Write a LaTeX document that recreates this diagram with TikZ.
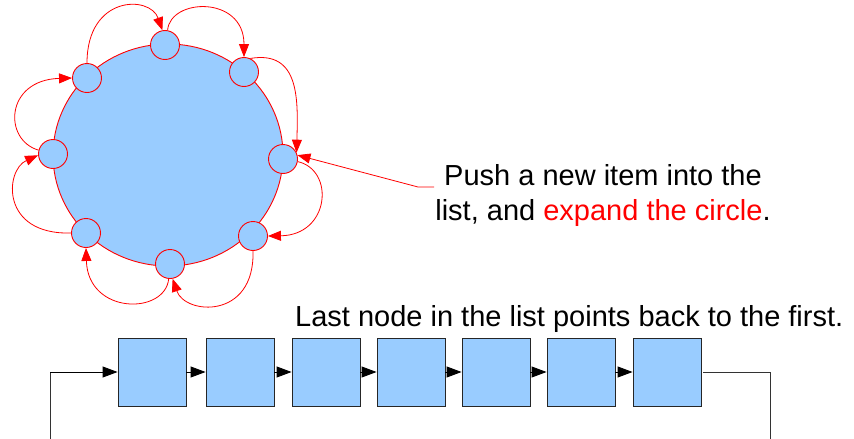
\documentclass[tikz,border=0pt]{standalone}
\usepackage{fontspec}
\setmainfont{Liberation Sans}
\usetikzlibrary{arrows.meta,shapes.geometric}
\definecolor{nodeblue}{HTML}{99CCFF}
\definecolor{linkred}{HTML}{FF0000}
\tikzset{
  ring/.style={ellipse,draw=linkred,fill=nodeblue,line width=0.9pt,inner sep=0pt,
               minimum width=230pt,minimum height=222pt},
  dot/.style={circle,draw=linkred,fill=nodeblue,line width=0.9pt,inner sep=0pt,minimum size=29pt},
  redlink/.style={draw=linkred,line width=0.8pt,-{Triangle[length=13pt,width=10pt]}},
  cell/.style={draw=black!85,fill=nodeblue,line width=0.9pt,inner sep=0pt,minimum size=68pt},
  blacklink/.style={draw=black,line width=0.9pt,-{Triangle[length=15pt,width=11pt]}},
  backlink/.style={draw=black!80,line width=1pt},
  caption/.style={inner sep=0pt,font=\fontsize{29}{35}\selectfont}
}
\begin{document}
\begin{tikzpicture}[x=1pt,y=-1pt]
\useasboundingbox (0,0) rectangle (854,439);

% circular list
\node[ring] (ring) at (168,155) {};
\node[dot] (c1) at (165,45) {};
\node[dot] (c2) at (244,72) {};
\node[dot] (c3) at (283,159) {};
\node[dot] (c4) at (253,236) {};
\node[dot] (c5) at (170,264) {};
\node[dot] (c6) at (86,233) {};
\node[dot] (c7) at (53,154) {};
\node[dot] (c8) at (87,78) {};

\draw[redlink] (c8.90) .. controls (87,-5) and (150,-5) .. (c1.100);
\draw[redlink] (c1.80) .. controls (170,-2) and (244,-5) .. (c2.90);
\draw[redlink] (c2.65) .. controls (300,50) and (298,100) .. (c3.25);
\draw[redlink] (c3.-10) .. controls (335,170) and (330,235) .. (c4.0);
\draw[redlink] (c4.270) .. controls (255,320) and (185,315) .. (c5.-80);
\draw[redlink] (c5.-95) .. controls (165,315) and (88,315) .. (c6.-90);
\draw[redlink] (c6.180) .. controls (0,235) and (5,170) .. (c7.185);
\draw[redlink] (c7.165) .. controls (3,140) and (5,80) .. (c8.180);

% caption for the circle
\node[caption,anchor=base] (t1) at (603,185) {Push a new item into the};
\node[caption,anchor=base] (t2) at (603,220) {list, and \textcolor{linkred}{expand the circle}.};
\coordinate (p0) at ([xshift=-10pt,yshift=-2pt]t1.base west);
\coordinate (p1) at ([xshift=-26pt,yshift=-2pt]t1.base west);
\draw[redlink] (p0) -- (p1) -- (c3.15);

% linear list
\node[caption,anchor=base west] (t3) at (295,326) {Last node in the list points back to the first.};
\node[cell] (b1) at (152,372) {};
\node[cell] (b2) at (240,372) {};
\node[cell] (b3) at (326,372) {};
\node[cell] (b4) at (411,372) {};
\node[cell] (b5) at (496,372) {};
\node[cell] (b6) at (581,372) {};
\node[cell] (b7) at (667,372) {};
\foreach \a/\b in {b1/b2,b2/b3,b3/b4,b4/b5,b5/b6,b6/b7}
  \draw[blacklink] (\a.east) -- (\b.west);

% wrap-around link from the last cell to the first
\coordinate (r0) at (770,372);
\coordinate (r1) at (770,439);
\coordinate (l1) at (50,439);
\coordinate (l0) at (50,372);
\draw[backlink] ([xshift=2pt]b7.east) -- (r0) -- (r1);
\draw[backlink] (l1) -- (l0);
\draw[blacklink] (l0) -- (b1.west);
\end{tikzpicture}
\end{document}
